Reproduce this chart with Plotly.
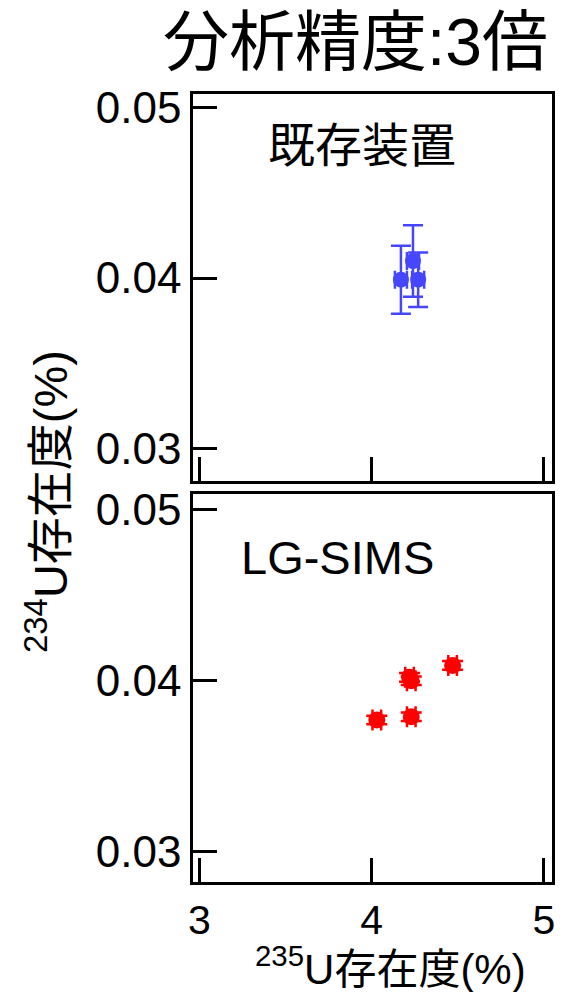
import plotly.graph_objects as go

# ---- data ----
existing_x = [4.17, 4.24, 4.27]
existing_y = [0.0399, 0.0410, 0.0399]
existing_xerr = [0.035, 0.035, 0.035]
existing_yerr = [0.0020, 0.0021, 0.0016]

lgsims_x = [4.47, 4.22, 4.23, 4.03, 4.23]
lgsims_y = [0.0409, 0.0402, 0.0400, 0.0377, 0.0379]
lgsims_xerr = [0.025, 0.025, 0.025, 0.025, 0.025]
lgsims_yerr = [0.00025, 0.00025, 0.00025, 0.00025, 0.00025]

x_ticks = [3, 4, 5]
y_ticks = [0.03, 0.04, 0.05]

title_text = "分析精度:3倍"
panel_top_label = "既存装置"
panel_bottom_label = "LG-SIMS"
x_title = "<sup>235</sup>U存在度(%)"
y_title = "<sup>234</sup>U存在度(%)"

FONT = "Liberation Sans, Arial, Noto Sans CJK JP"
BLUE = "#4646FF"
RED = "#FF0000"

fig = go.Figure()
fig.add_trace(go.Scatter(
    x=existing_x, y=existing_y, mode="markers",
    marker=dict(color=BLUE, size=16),
    error_y=dict(type="data", array=existing_yerr, color=BLUE, thickness=2.5, width=10),
    error_x=dict(type="data", array=existing_xerr, color=BLUE, thickness=2.5, width=9),
    xaxis="x2", yaxis="y2", showlegend=False))
fig.add_trace(go.Scatter(
    x=lgsims_x, y=lgsims_y, mode="markers",
    marker=dict(color=RED, size=17),
    error_y=dict(type="data", array=lgsims_yerr, color=RED, thickness=2.5, width=10.5),
    error_x=dict(type="data", array=lgsims_xerr, color=RED, thickness=2.5, width=10.5),
    xaxis="x", yaxis="y", showlegend=False))

axis_common = dict(showline=True, linecolor="black", linewidth=2.5, mirror=True,
                   ticks="inside", ticklen=24, tickwidth=2.5, tickcolor="black",
                   showgrid=False, zeroline=False,
                   tickfont=dict(family=FONT, size=44, color="black"))

fig.update_layout(
    width=585, height=992,
    margin=dict(l=193, r=33, t=94, b=110),
    paper_bgcolor="white", plot_bgcolor="white",
    xaxis=dict(range=[2.963, 5.047], tickvals=x_ticks, ticktext=[str(v) for v in x_ticks],
               anchor="y", **axis_common),
    xaxis2=dict(range=[2.963, 5.047], tickvals=x_ticks, showticklabels=False,
                anchor="y2", matches="x", **axis_common),
    yaxis=dict(range=[0.02823, 0.05094], tickvals=y_ticks, ticktext=["0.03", "0.04", "0.05"],
               domain=[0, 0.4927], anchor="x", **axis_common),
    yaxis2=dict(range=[0.0281, 0.0508], tickvals=y_ticks, ticktext=["0.03", "0.04", "0.05"],
                domain=[0.5092, 1], anchor="x2", **axis_common),
)
fig.update_xaxes(tickfont=dict(family=FONT, size=41, color="black"), selector=dict(anchor="y"))

annos = [
    dict(text=title_text, x=355, y=42, size=66),
    dict(text=panel_top_label, x=362, y=145, size=47),
    dict(text=panel_bottom_label, x=337, y=557, size=47),
    dict(text=x_title, x=390, y=966, size=42),
]
for a in annos:
    fig.add_annotation(text=a["text"], xref="paper", yref="paper",
                       x=(a["x"] - 193) / (585 - 193 - 33),
                       y=1 - (a["y"] - 94) / (992 - 94 - 110),
                       xanchor="center", yanchor="middle", showarrow=False,
                       font=dict(family=FONT, size=a["size"], color="black"))
fig.add_annotation(text=y_title, xref="paper", yref="paper",
                   x=(47 - 193) / (585 - 193 - 33), y=1 - (502 - 94) / (992 - 94 - 110),
                   xanchor="center", yanchor="middle", showarrow=False, textangle=-90,
                   font=dict(family=FONT, size=47, color="black"))

fig.write_html("out.html")
